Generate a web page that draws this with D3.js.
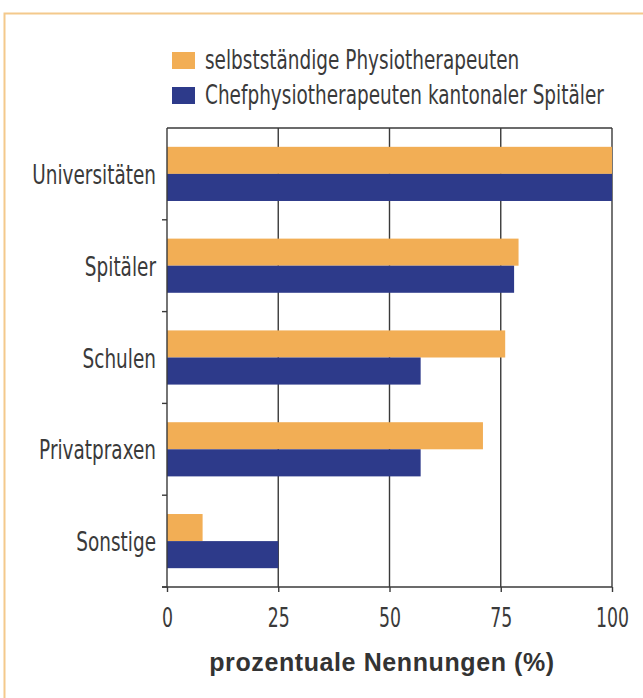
<!DOCTYPE html>
<html>
<head>
<meta charset="utf-8">
<script src="https://cdn.jsdelivr.net/npm/d3@7"></script>
<style>
  body { margin: 0; background: #fff; }
  svg { display: block; }
  .lab { font-family: "DejaVu Sans Condensed", "DejaVu Sans", sans-serif; font-stretch: condensed; fill: #3a3a3a; }
</style>
</head>
<body>
<svg id="chart" width="643" height="698"></svg>
<script>
// Data.
var categories = ["Universitäten", "Spitäler", "Schulen", "Privatpraxen", "Sonstige"];
var seriesNames = ["selbstständige Physiotherapeuten", "Chefphysiotherapeuten kantonaler Spitäler"];
var selbst = [100, 79, 76, 71, 8];
var chef = [100, 78, 57, 57, 25];
var xTicks = [0, 25, 50, 75, 100];
var xTitle = "prozentuale Nennungen (%)";

var colors = ["#f2ae55", "#2d3a8a"];
var ink = "#3a3a3a";
var fontSize = 27;
var squeeze = 0.76; // the original face is a condensed one

var svg = d3.select("#chart");
var plotLeft = 167, plotRight = 612, plotTop = 128, plotBottom = 587;

// Frame round the figure.
svg.append("path")
  .attr("d", "M4.5,698 L4.5,13.5 L643,13.5")
  .attr("fill", "none")
  .attr("stroke", "#f4c98c")
  .attr("stroke-width", 2);

var x = d3.scaleLinear().domain([0, 100]).range([plotLeft, plotRight]);
var y = d3.scaleBand().domain(categories).range([plotTop, plotBottom]).paddingInner(0.41).paddingOuter(0.205);
var ySub = d3.scaleBand().domain([0, 1]).range([0, y.bandwidth()]);

// Gridlines behind bars.
svg.append("g").selectAll("line")
  .data(xTicks.slice(1))
  .join("line")
  .attr("x1", d => x(d)).attr("x2", d => x(d))
  .attr("y1", plotTop).attr("y2", plotBottom)
  .attr("stroke", ink).attr("stroke-width", 1.4);

// Top line.
svg.append("line")
  .attr("x1", plotLeft).attr("x2", plotRight)
  .attr("y1", plotTop).attr("y2", plotTop)
  .attr("stroke", ink).attr("stroke-width", 1.4);

// Bars.
var rows = categories.map((c, i) => ({cat: c, vals: [selbst[i], chef[i]]}));
svg.append("g").selectAll("g")
  .data(rows)
  .join("g")
  .attr("transform", d => "translate(0," + y(d.cat) + ")")
  .selectAll("rect")
  .data(d => d.vals.map((v, k) => ({v: v, k: k})))
  .join("rect")
  .attr("x", x(0))
  .attr("y", d => ySub(d.k))
  .attr("width", d => x(d.v) - x(0))
  .attr("height", ySub.bandwidth())
  .attr("fill", d => colors[d.k]);

// Left axis line and ticks at band boundaries.
svg.append("line")
  .attr("x1", plotLeft).attr("x2", plotLeft)
  .attr("y1", plotTop).attr("y2", plotBottom)
  .attr("stroke", ink).attr("stroke-width", 1.4);
svg.append("g").selectAll("line")
  .data(d3.range(1, categories.length + 1))
  .join("line")
  .attr("x1", plotLeft - 5).attr("x2", plotLeft)
  .attr("y1", i => plotTop + i * y.step()).attr("y2", i => plotTop + i * y.step())
  .attr("stroke", ink).attr("stroke-width", 1.4);

// Category labels.
svg.append("g").selectAll("text")
  .data(categories)
  .join("text")
  .attr("class", "lab")
  .attr("transform", d => "translate(" + (plotLeft - 11) + "," + (y(d) + y.bandwidth() / 2 + 10) + ") scale(" + squeeze + ",1)")
  .attr("text-anchor", "end")
  .attr("font-size", fontSize)
  .text(d => d);

// Bottom axis.
var xAxis = svg.append("g")
  .attr("transform", "translate(0," + plotBottom + ")")
  .call(d3.axisBottom(x).tickValues(xTicks).tickSize(5).tickSizeOuter(0).tickPadding(10));
xAxis.select(".domain").attr("d", "M" + (plotLeft - 5) + ",0H" + plotRight).attr("stroke", ink).attr("stroke-width", 1.4);
xAxis.selectAll(".tick line").attr("stroke", ink).attr("stroke-width", 1.4);
xAxis.selectAll(".tick text")
  .attr("class", "lab")
  .attr("font-size", 26)
  .attr("dy", "0.95em")
  .attr("transform", "scale(0.74,1)");

svg.append("text")
  .attr("x", 382)
  .attr("y", 671)
  .attr("text-anchor", "middle")
  .attr("font-family", "'Liberation Sans', Arial, sans-serif")
  .attr("font-weight", "bold")
  .attr("font-size", 25)
  .attr("letter-spacing", 0.6)
  .attr("fill", "#333")
  .text(xTitle);

// Legend.
var legend = svg.append("g").selectAll("g")
  .data(seriesNames)
  .join("g")
  .attr("transform", (d, i) => "translate(172," + (52 + i * 35) + ")");
legend.append("rect")
  .attr("width", 23).attr("height", 17)
  .attr("fill", (d, i) => colors[i]);
legend.append("text")
  .attr("class", "lab")
  .attr("transform", "translate(33,17) scale(" + squeeze + ",1)")
  .attr("font-size", fontSize)
  .text(d => d);
</script>
</body>
</html>
